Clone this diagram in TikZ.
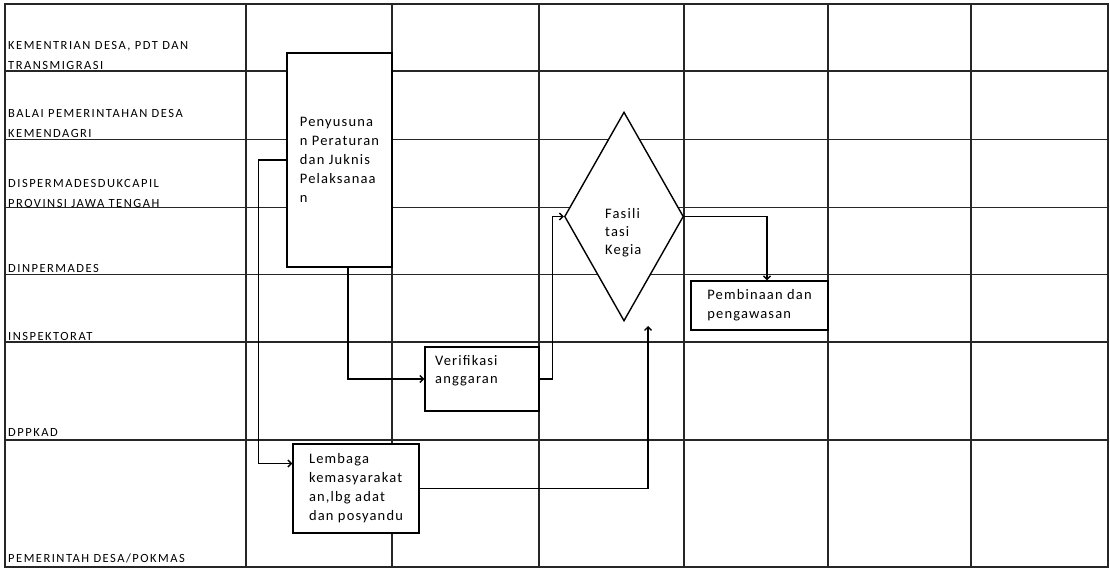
\documentclass[tikz,border=0pt]{standalone}
\usepackage{fontspec}
\setmainfont{Carlito}
\newfontfamily\lanefnt[LetterSpace=12]{Carlito}
\newfontfamily\boxfnt[LetterSpace=8]{Carlito}
\usetikzlibrary{shapes.geometric,arrows.meta}
\begin{document}
\begin{tikzpicture}[x=1pt,y=-1pt,
  gridline/.style={line width=1.5pt, black!85},
  lane/.style={anchor=north west, inner sep=0pt, align=left, font=\lanefnt\fontsize{12.5}{20.5}\selectfont},
  procbox/.style={draw, line width=1.4pt, fill=white, align=left, inner sep=0pt, font=\boxfnt\fontsize{14.5}{19}\selectfont},
  btext/.style={anchor=north west, inner sep=0pt, align=left, font=\boxfnt\fontsize{14.5}{18}\selectfont},
  decision/.style={diamond, draw, line width=1.4pt, fill=white, inner sep=0pt, minimum width=119pt, minimum height=209pt},
  flow/.style={line width=1.3pt, -{Straight Barb[length=3.5pt,width=7pt]}}]
\useasboundingbox (0,0) rectangle (1110,569);
% swimlane grid
\foreach \y in {71,139.5,207.5,274.5,342,440} \draw[gridline] (5,\y) -- (1108,\y);
\foreach \x in {246,392,539,684,828,971} \draw[gridline] (\x,4) -- (\x,567);
\draw[gridline] (5,4) rectangle (1108,567);
% lane labels
\node[lane] (l1) at (8,41) {KEMENTRIAN DESA, PDT DAN\\TRANSMIGRASI};
\node[lane] (l2) at (8,109) {BALAI PEMERINTAHAN DESA\\KEMENDAGRI};
\node[lane] (l3) at (8,179) {DISPERMADESDUKCAPIL\\PROVINSI JAWA TENGAH};
\node[lane] (l4) at (8,264) {DINPERMADES};
\node[lane] (l5) at (8,332) {INSPEKTORAT};
\node[lane] (l6) at (8,428) {DPPKAD};
\node[lane] (l7) at (8,554) {PEMERINTAH DESA/POKMAS};
% process boxes
\node[procbox, minimum width=105pt, minimum height=214pt] (pen) at (339.5,160) {Penyusuna\\n Peraturan\\dan Juknis\\Pelaksanaa\\n};
\node[procbox, minimum width=114pt, minimum height=64pt] (ver) at (482,379) {};
\node[btext] (vert) at (435,355) {Verifikasi\\anggaran};
\node[decision] (fas) at (624,216.5) {};
\node[btext] (fast) at (605,208) {Fasili\\tasi\\Kegia};
\node[procbox, minimum width=137pt, minimum height=49pt] (pem) at (759.5,305.5) {Pembinaan dan\\pengawasan};
\node[procbox, minimum width=126pt, minimum height=89pt] (lem) at (356,488.5) {Lembaga\\kemasyarakat\\an,lbg adat\\dan posyandu};
\coordinate (fasin) at (648,326);
% connectors
\draw[flow] (pen.west) -- ++(-28,0) |- ([yshift=25pt]lem.west);
\draw[flow] ([xshift=8.5pt]pen.south) |- (ver.west);
\draw[flow] (ver.east) -- ++(13,0) |- (fas.west);
\draw[flow] (fas.east) -| ([xshift=7.5pt]pem.north);
\draw[flow] (lem.east) -| (fasin);
\end{tikzpicture}
\end{document}
